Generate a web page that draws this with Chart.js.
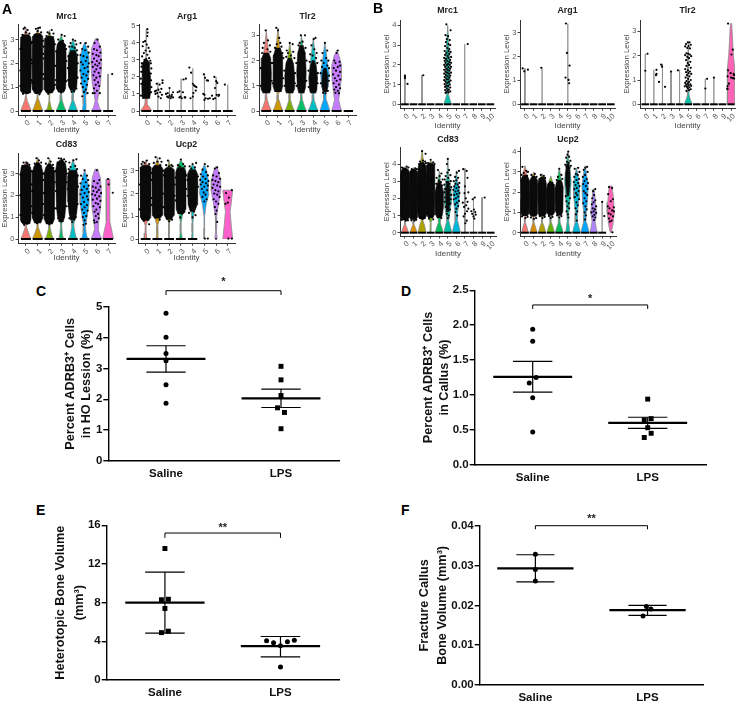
<!DOCTYPE html>
<html>
<head>
<meta charset="utf-8">
<script src="https://cdn.jsdelivr.net/npm/chart.js@4"></script>
<style>
  html, body { margin: 0; background: #fff; }
  body { position: relative; width: 739px; height: 701px; overflow: hidden; }
  canvas { position: absolute; }
  canvas.small { filter: blur(0.35px); }
  .letter { position: absolute; font: bold 14px "Liberation Sans", sans-serif; color: #000; }
</style>
</head>
<body>
<script>
// violin outlines are [level, half width in category units], dense = the solid black part of the jitter
const a_mrc1_violins = [
  [[0,.46],[.2,.3],[.45,.1],[.65,.03],[.85,.12],[1.2,.38],[2,.46],[2.8,.42],[3.05,.2],[3.5,.01]],
  [[0,.45],[.2,.28],[.5,.08],[.7,.03],[.9,.12],[1.3,.36],[2,.44],[2.8,.38],[3.1,.18],[3.5,.01]],
  [[0,.3],[.15,.15],[.4,.04],[.7,.03],[.9,.15],[1.3,.36],[2,.44],[2.8,.36],[3.05,.15],[3.4,.01]],
  [[0,.42],[.2,.25],[.45,.08],[.7,.04],[.9,.15],[1.4,.36],[2.2,.4],[2.8,.25],[3.2,.01]],
  [[0,.38],[.2,.25],[.45,.07],[.7,.05],[1,.2],[1.6,.38],[2.3,.4],[2.7,.22],[3,.01]],
  [[0,.2],[.3,.12],[.6,.1],[1,.22],[1.7,.4],[2.3,.38],[2.7,.15],[2.9,.01]],
  [[0,.42],[.15,.25],[.4,.1],[.7,.18],[1.2,.36],[2,.46],[2.6,.42],[3,.12],[3.05,.01]],
  [[0,.01],[1.55,.01]]
];
const a_mrc1_dense = [
  [[.72,.26],[.85,.42],[1.1,.46],[2.9,.46],[3.1,.42],[3.2,.25]],
  [[.72,.24],[.9,.42],[1.2,.45],[2.9,.45],[3.15,.4],[3.25,.2]],
  [[.75,.24],[.9,.42],[1.2,.45],[2.9,.45],[3.05,.38],[3.15,.15]],
  [[.78,.22],[.95,.38],[1.3,.42],[2.5,.42],[2.8,.34],[2.95,.12]],
  [[.85,.2],[1.05,.34],[1.5,.38],[2.3,.36],[2.55,.2]]
];
const a_mrc1_dots = [
  [-.2,3.45],[.15,3.4],[.3,3.25],[-.3,3.2],[0,3.3],[.2,3.15],[-.35,.85],[.35,.8],[-.25,.72],[.1,.75],[-.1,3.5],
  [.85,3.45],[1.2,3.5],[1.3,3.3],[.75,3.2],[1,3.35],[1.2,3.2],[.7,.95],[1.3,.85],[.9,.75],[1.15,.7],[1.05,3.48],
  [1.85,3.3],[2.2,3.4],[2.3,3.1],[1.75,3.15],[2,3.25],[2.35,3.25],[2.1,.8],[1.8,.85],[2.3,.9],[1.9,.72],
  [3.05,3.2],[3.3,3.15],[2.75,3],[3.15,2.95],[2.85,2.85],[3.35,2.75],[2.7,.95],[3.25,.9],[3,.78],
  [4,3],[4.2,2.95],[3.8,2.85],[4.3,2.8],[3.95,2.7],[4.15,2.65],[3.7,2.7],[4.35,2.55],[3.75,1],[4.3,.95],[4.1,.82],[3.9,.8],
  [4.65,2.85],[5.1,2.85],[5.3,2.7],[4.8,2.6],[5.05,2.55],[5.35,2.45],[4.65,2.35],[4.9,2.3],[5.2,2.25],[5.1,2.1],[4.7,2.05],[5.35,2],
  [4.85,1.95],[5.25,1.85],[5,1.8],[4.65,1.7],[5.3,1.65],[4.9,1.55],[5.15,1.5],[4.75,1.4],[5.3,1.35],[5,1.25],[4.7,1.15],[5.2,1.1],
  [4.85,1],[5.1,.9],[4.95,.8],[5.25,.75],[4.8,.62],
  [6.1,3],[5.85,2.85],[6.3,2.7],[5.8,2.6],[6.05,2.55],[6.35,2.45],[5.7,2.4],[6,2.35],[6.2,2.3],[5.8,2.2],[6.4,2.15],[6.05,2.1],
  [5.65,2.05],[6.25,2],[5.9,1.95],[6.1,1.9],[5.7,1.85],[6.35,1.8],[6,1.75],[5.85,1.65],[6.2,1.6],[5.75,1.5],[6.3,1.45],[6,1.4],
  [5.85,1.3],[6.15,1.2],[5.95,1.1],[6.25,1.05],[5.8,.95],[6.05,.85],[5.7,.75],[5.85,.75],[6.3,.75],
  [7.35,1.55],
  [-.47,1.05],[.48,1.3],[-.48,1.7],[.47,2.15],[-.47,2.6],[.46,2.85],
  [.53,1.2],[1.47,1.55],[.52,2],[1.48,2.4],[.53,2.9],[1.46,2.95],
  [1.53,1.35],[2.47,1.1],[1.52,2.2],[2.48,1.9],[1.53,2.7],[2.46,2.8],
  [2.56,1.3],[3.44,1.25],[2.55,1.9],[3.45,2.1],[2.58,2.5],[3.42,2.6],
  [3.6,1.3],[4.4,1.4],[3.58,1.8],[4.42,2],[3.62,2.3],[4.4,2.35]
];
const a_mrc1_zero = [.42,.42,.42,.42,.42,.42,.42,.42];

const a_arg1_violins = [
  [[0,.48],[.15,.35],[.35,.15],[.6,.08],[.8,.1],[1.2,.08],[2,.05],[3,.03],[4.8,.01]],
  [[0,.01],[1.7,.01]], [[0,.01],[1.3,.01]], [[0,.01],[1.9,.01]], [[0,.01],[2.5,.01]],
  [[0,.01],[2.2,.01]], [[0,.01],[2,.01]], [[0,.01],[1.55,.01]]
];
const a_arg1_dense = [ [[.72,.3],[1,.36],[1.5,.38],[2,.36],[2.4,.3],[2.85,.3],[3,.12]] ];
const a_arg1_dots = [
  [.1,4.8],[.12,4.6],[.1,4.4],[-.1,4.1],[-.25,4.05],[.05,3.9],[-.3,3.8],[.2,3.7],[-.05,3.55],[.3,3.5],[-.2,3.4],[.1,3.3],
  [-.35,3.2],[.25,3.1],[0,3.05],[-.15,3],[.35,2.95],[-.4,2.6],[.4,2.2],[-.42,1.6],[.42,1.1],
  [.75,1.15],[.85,1.2],[.95,1.05],[1.05,1.25],[1.15,1.55],[1.3,1.3],[1.4,1.8],[.9,1.6],[1.2,1.1],[1.35,.95],[1.05,.85],[.8,1],[1.25,.75],[1.4,1.65],
  [1.7,1],[1.8,.85],[1.9,.8],[2,.9],[2.1,.75],[2.2,.95],[2.3,.8],[1.85,1.05],[2,1.35],[2.15,.85],[2.3,1.1],
  [2.7,1.1],[2.85,1.15],[2.95,.85],[3.05,.75],[3.2,1.85],[3.4,1.9],[3.3,.8],[3.15,1.1],[2.85,.8],[3.35,.8],
  [3.7,2.55],[3.85,2.25],[4,1.6],[4.1,1.5],[4.2,1.45],[4.3,1.4],[4.05,1.05],[4,.85],[3.8,.75],[4.25,1.2],
  [4.95,2.15],[5.05,1.95],[5.2,1.8],[5.3,1.78],[4.9,1],[5,.95],[5.1,.75],[5.3,.72],[5.45,.75],[5,.65],
  [5.85,2],[6,1.75],[6.1,1.65],[5.9,1.35],[6.05,.95],[6.2,.88],[6.25,.95],[5.9,.75],[5.75,.7],[5.65,.9],
  [6.75,1.55],
  [-.44,.9],[.44,1.4],[-.45,1.9],[.44,2.5],[-.42,2.3],[.42,1.8],[-.38,2.8],[.4,2.8]
];
const a_arg1_zero = [.42,.42,.42,.42,.42,.42,.42,.42];

const a_tlr2_violins = [
  [[0,.45],[.2,.25],[.45,.08],[.65,.04],[.9,.22],[1.4,.4],[2,.32],[2.6,.12],[3.2,.01]],
  [[0,.42],[.2,.25],[.45,.08],[.65,.04],[.9,.22],[1.4,.38],[2,.32],[2.6,.14],[3.3,.01]],
  [[0,.4],[.2,.22],[.45,.06],[.65,.05],[.9,.25],[1.3,.4],[1.9,.25],[2.7,.01]],
  [[0,.42],[.2,.25],[.45,.08],[.65,.04],[.9,.22],[1.4,.38],[2,.3],[2.6,.1],[3,.01]],
  [[0,.42],[.2,.25],[.45,.08],[.65,.05],[.9,.22],[1.3,.38],[2,.22],[2.9,.01]],
  [[0,.42],[.2,.3],[.45,.12],[.7,.1],[1,.3],[1.5,.36],[2,.2],[2.7,.01]],
  [[0,.42],[.2,.3],[.45,.18],[.7,.25],[1.2,.38],[1.8,.42],[2.2,.2],[2.4,.01]],
  [[0,.01],[.02,.01]]
];
const a_tlr2_dense = [
  [[.7,.28],[.85,.4],[1.5,.44],[2.1,.38],[2.3,.2]],
  [[.75,.28],[.95,.38],[1.7,.42],[2.2,.38],[2.5,.2]],
  [[.7,.28],[.85,.38],[1.4,.42],[1.9,.32],[2.1,.12]],
  [[.7,.22],[.95,.36],[1.6,.4],[2.3,.32],[2.6,.15]],
  [[.7,.22],[.85,.32],[1.3,.36],[1.8,.24],[2,.1]],
  [[.75,.15],[1,.26],[1.4,.24],[1.7,.12]]
];
const a_tlr2_dots = [
  [-.05,3.2],[.15,2.8],[-.2,2.7],[.3,2.6],[-.3,2.5],[.1,2.45],[.35,2.35],[-.35,2.3],
  [.85,3.3],[1,3.2],[1.1,2.9],[1.3,2.55],[.75,2.5],[1.2,2.7],[.9,2.65],[.7,2.2],[1.38,2.3],
  [2,2.7],[2.25,2.65],[1.75,2.4],[2.3,2.35],[1.85,2.3],[2.1,2.2],[1.7,2.15],[2.4,2.1],
  [2.95,3],[3.3,3],[3.1,2.75],[2.75,2.6],[3.35,2.5],[2.85,2.7],[3,2.55],[3.25,2.3],
  [4.05,2.85],[4.2,2.9],[3.85,2.6],[4.1,2.45],[4.3,2.3],[3.75,2.25],[3.95,2.2],[4.25,2.1],[3.7,1.95],[4.35,1.9],
  [5,2.7],[5.2,2.4],[4.8,2.3],[5.1,2.1],[4.7,2],[5.3,2],[4.9,1.9],[5.2,1.8],[4.75,1.75],[5.35,1.7],
  [5.05,.7],[4.85,.72],[5.25,.8],
  [6.1,2.4],[6,2.3],[5.8,2],[6.25,1.95],[5.9,1.9],[6.3,1.8],[5.75,1.7],[6.1,1.75],[5.95,1.6],[6.3,1.55],[5.7,1.45],[6.15,1.4],
  [5.85,1.3],[6.3,1.25],[6,1.2],[5.75,1.1],[6.2,1.05],[5.95,.95],[6.3,.9],[5.8,.85],[6.1,.8],[5.9,.72],[6.2,.7],
  [-.46,1],[.46,1.2],[-.47,1.7],[.46,1.9],[.54,1.1],[1.44,1.3],[.53,1.9],[1.46,2.1],
  [1.56,1],[2.44,1.1],[1.54,1.6],[2.46,1.5],[2.58,1],[3.42,1.2],[2.56,1.9],[3.44,2],
  [3.62,.95],[4.38,1.1],[3.6,1.6],[4.4,1.5],[4.66,1.1],[5.34,1.2],[4.64,1.5],[5.36,1.4]
];
const a_tlr2_zero = [.42,.42,.42,.42,.42,.42,.42,.4];

const a_cd83_violins = [
  [[0,.42],[.2,.28],[.5,.08],[.7,.05],[.9,.2],[1.4,.38],[2.4,.42],[3.1,.38],[3.3,.2],[3.55,.01]],
  [[0,.45],[.25,.25],[.5,.08],[.7,.05],[.95,.2],[1.5,.38],[2.4,.42],[3.1,.36],[3.4,.15],[3.75,.01]],
  [[0,.35],[.2,.2],[.5,.06],[.7,.06],[.95,.22],[1.5,.38],[2.4,.42],[3.1,.36],[3.35,.1],[3.7,.01]],
  [[0,.2],[.25,.1],[.6,.05],[.95,.12],[1.5,.34],[2.4,.42],[3.2,.42],[3.5,.25],[3.7,.01]],
  [[0,.32],[.25,.2],[.6,.08],[.95,.15],[1.5,.32],[2.5,.42],[3.1,.3],[3.65,.01]],
  [[0,.25],[.3,.12],[.6,.08],[1,.2],[1.6,.38],[2.3,.38],[2.8,.2],[3.15,.01]],
  [[0,.45],[.2,.3],[.45,.15],[.8,.2],[1.4,.36],[2.1,.44],[2.8,.35],[3.2,.12]],
  [[0,.46],[.3,.35],[.8,.15],[1.5,.14],[2.2,.16],[2.75,.17]]
];
const a_cd83_dense = [
  [[.68,.26],[.85,.42],[1.2,.46],[3.05,.46],[3.3,.4],[3.4,.15]],
  [[.72,.26],[.95,.42],[1.3,.45],[3.05,.44],[3.3,.34],[3.5,.12]],
  [[.68,.26],[.9,.42],[1.3,.45],[3.05,.42],[3.25,.34],[3.45,.12]],
  [[.78,.18],[1.05,.32],[1.5,.4],[3.15,.46],[3.45,.38],[3.6,.15]],
  [[.85,.18],[1.15,.32],[1.7,.42],[2.9,.42],[3.15,.32]]
];
const a_cd83_dots = [
  [-.2,3.5],[.15,3.45],[.3,3.4],[-.3,3.35],[.05,3.5],[-.35,.8],[.3,.75],[-.15,.65],[.1,.7],
  [.9,3.7],[1.1,3.6],[.75,3.45],[1.3,3.5],[1,3.4],[1.25,3.35],[.8,.8],[1.2,.85],[.95,.72],
  [1.9,3.7],[2.1,3.55],[1.7,3.45],[2.3,3.4],[2,3.35],[2.35,3.25],[1.8,.75],[2.2,.8],[2,.68],
  [2.8,3.7],[3,3.68],[3.25,3.65],[3.4,3.55],[2.7,3.5],[3.1,3.6],[2.75,.95],[3.2,1],[3,.8],
  [4.05,3.6],[4.3,3.65],[3.7,3.5],[4.2,3.35],[3.8,3.3],[3.65,3.2],[4.35,3.2],[3.7,.95],[4.25,1],[3.95,.78],[4.1,.9],
  [5,3.15],[5.2,2.9],[4.7,2.9],[5.3,2.7],[4.85,2.75],[5.1,2.6],[4.65,2.55],[5.35,2.45],[4.95,2.4],[5.2,2.3],[4.75,2.25],[5.35,2.15],
  [5,2.1],[4.65,2.05],[5.2,1.95],[4.85,1.9],[5.3,1.8],[4.95,1.7],[4.7,1.6],[5.2,1.55],[5,1.45],[4.8,1.35],[5.25,1.3],[4.95,1.2],[5.15,1.05],[4.85,1],[5,.85],[5.1,.7],[4.9,.65],
  [6.05,3.15],[6.25,2.7],[5.8,2.65],[6.1,2.55],[6.35,2.4],[5.7,2.4],[5.95,2.35],[6.2,2.25],[5.75,2.2],[6.05,2.15],[6.4,2.1],[5.65,2.05],
  [5.9,2],[6.25,1.95],[6.05,1.85],[5.7,1.8],[6.35,1.75],[5.95,1.65],[6.15,1.6],[5.75,1.5],[6.3,1.45],[6,1.35],[5.85,1.25],[6.15,1.15],[5.95,1.05],[6.2,.95],[5.8,.85],[6.05,.78],[5.85,.75],
  [7,2.75],[7.05,2.5],[7.4,2.12],
  [-.47,1.1],[.47,1.5],[-.48,2],[.47,2.5],[-.47,2.95],[.46,3.1],
  [.54,1.2],[1.46,1.6],[.53,2.2],[1.47,2.7],[.55,3.1],[1.45,3],
  [1.53,1.1],[2.47,1.4],[1.53,2.1],[2.46,2.6],[1.55,3],[2.44,3.1],
  [2.6,1.4],[3.42,1.5],[2.56,2.2],[3.47,2.6],[2.56,3.1],[3.46,3],
  [3.62,1.5],[4.4,1.6],[3.58,2.3],[4.43,2.4],[3.6,3],[4.42,2.9]
];
const a_cd83_zero = [.42,.42,.42,.42,.42,.42,.42,.42];

const a_ucp2_violins = [
  [[0,.12],[.25,.06],[.6,.04],[.85,.2],[1.3,.42],[2.4,.44],[3.1,.38],[3.3,.1],[3.45,.01]],
  [[0,.12],[.25,.06],[.6,.04],[.9,.2],[1.4,.42],[2.4,.44],[3.1,.36],[3.35,.1],[3.6,.01]],
  [[0,.05],[.3,.03],[.7,.03],[.95,.2],[1.4,.42],[2.4,.44],[3,.38],[3.2,.1],[3.45,.01]],
  [[0,.12],[.3,.05],[.7,.03],[1.1,.15],[1.6,.38],[2.4,.42],[3.1,.36],[3.5,.01]],
  [[0,.1],[.3,.04],[.7,.03],[1.2,.12],[1.7,.35],[2.4,.44],[3,.3],[3.3,.01]],
  [[0,.02],[.5,.02],[1,.03],[1.5,.15],[2,.4],[2.6,.35],[3,.2],[3.3,.01]],
  [[0,.1],[.4,.03],[1,.06],[1.5,.2],[2.1,.4],[2.6,.4],[3,.2],[3.2,.01]],
  [[0,.42],[.6,.3],[1.2,.2],[1.6,.3],[2.15,.42]]
];
const a_ucp2_dense = [
  [[.8,.24],[.95,.44],[3.15,.47],[3.25,.3]],
  [[.9,.22],[1.05,.44],[3.1,.46],[3.25,.25]],
  [[.85,.18],[1.05,.42],[3.05,.45],[3.15,.2]],
  [[1.1,.22],[1.3,.4],[2.95,.44],[3.15,.25]],
  [[1.2,.18],[1.5,.38],[2.85,.44],[3.05,.25]]
];
const a_ucp2_dots = [
  [-.25,3.4],[.1,3.45],[.3,3.3],[-.35,3.3],[-.1,3.35],[-.3,.9],[.2,.85],[.1,.95],[-.15,.8],[.3,.65],
  [.85,3.6],[1.2,3.55],[1.35,3.4],[.7,3.35],[1,3.4],[1.25,3.25],[.85,.95],[1.2,.85],[1.05,1],
  [1.9,3.45],[2.2,3.25],[1.75,3.25],[2.3,3.2],[2,3.2],[1.8,.9],[2.25,.85],[2,.78],
  [3,3.5],[3.2,3.3],[2.75,3.25],[3.35,3.2],[2.9,3.2],[3.1,1.1],[2.8,1.15],[3.3,1.2],[2.95,.95],
  [4.3,3.35],[4,3.3],[3.75,3.2],[4.2,3.15],[3.9,3.1],[3.7,1.15],[4.25,1.05],[4,.95],[4.1,1.2],[3.85,1.3],
  [5.05,3.3],[5.3,3.2],[4.85,3.05],[5.15,2.95],[4.7,2.85],[5.3,2.8],[4.9,2.75],[5.1,2.65],[4.65,2.6],[5.35,2.55],[4.85,2.5],[5.15,2.45],
  [4.7,2.4],[5.3,2.35],[5,2.3],[4.8,2.2],[5.25,2.15],[4.95,2.05],[5.1,1.95],[4.85,1.85],[5.2,1.75],[5,1.65],[5.05,.02],[5.3,.02],
  [6.1,3.15],[5.9,3.1],[6.25,2.9],[5.75,2.8],[6.05,2.75],[6.35,2.65],[5.7,2.6],[5.95,2.55],[6.2,2.5],[5.8,2.4],[6.1,2.35],[6.35,2.3],
  [5.7,2.25],[5.95,2.15],[6.2,2.1],[5.85,2],[6.1,1.95],[6.3,1.85],[5.8,1.75],[6,1.65],[6.2,1.55],[5.9,1.4],[6.05,1.25],[5.95,1.1],[6.1,.75],
  [6.85,2.02],[7.1,1.82],[7,1.6],[6.8,1.55],[7.35,2.15],[7.05,.02],[7.35,.02],
  [-.49,1.3],[.49,1.8],[-.49,2.4],[.49,2.9],[.52,1.5],[1.48,2],[.52,2.6],[1.48,3],
  [1.53,1.4],[2.47,1.9],[1.52,2.8],[2.48,2.4],[2.56,1.7],[3.46,2.2],[2.55,2.7],[3.46,2.8],
  [3.58,1.9],[4.46,2.3],[3.56,2.6],[4.46,2.75]
];
const a_ucp2_zero = [.42,.42,.42,.42,.4,0,.05,.0];

const b_mrc1_violins = [
  [[0,.01],[1.45,.01]],[[0,.01],[.02,.01]],[[0,.01],[1.47,.01]],[[0,.01],[.02,.01]],[[0,.01],[.02,.01]],
  [[0,.46],[.2,.3],[.5,.1],[.7,.08],[1,.2],[2,.25],[3,.14],[4,.01]],
  [[0,.01],[.02,.01]],[[0,.01],[3.05,.01]],[[0,.01],[.02,.01]],[[0,.01],[.02,.01]],[[0,.01],[.02,.01]]
];
const b_mrc1_dots = [
  [0,1.45],[0,1.38],[0,1.33],[.3,1.03],[2.15,1.47],[7.35,3.05],
  [4.85,4.05],[5.35,3.75],[4.75,3.5],[5.05,3.45],[4.9,3.3],[5.25,3.25],[4.8,3.15],[5.1,3.05],[5.3,3],[4.7,2.95],[4.95,2.85],[5.2,2.8],
  [4.65,2.7],[5.1,2.7],[5.35,2.65],[4.85,2.6],[4.7,2.5],[5.2,2.55],[5,2.45],[5.4,2.4],[4.6,2.35],[4.8,2.3],[5.1,2.35],[5.3,2.25],
  [4.65,2.2],[4.95,2.2],[5.2,2.15],[5.4,2.1],[4.75,2.1],[5.05,2.05],[4.6,2],[4.9,1.98],[5.25,2],[5.4,1.9],[4.7,1.9],[5.1,1.88],
  [4.85,1.8],[5.3,1.8],[4.6,1.75],[5,1.75],[5.2,1.7],[4.75,1.65],[5.4,1.6],[4.95,1.6],[4.6,1.55],[5.15,1.55],[4.8,1.48],[5.3,1.45],
  [5,1.42],[4.65,1.38],[5.2,1.35],[4.85,1.3],[4.6,1.22],[5.05,1.25],[5.35,1.2],[4.75,1.15],[5.15,1.12],[4.95,1.08],[4.65,1.02],[5.25,1],
  [4.85,.95],[5.05,.92],[4.7,.88],[5.3,.85],[4.9,.8],[5.15,.75],[4.7,.72],[5,.7],[5.3,.65],[4.85,.62],[5.1,.6],[4.75,.58]
];
const b_mrc1_zero = [.45,.45,.45,.45,.45,.45,.45,.45,.45,.45,.45];

const b_arg1_violins = [
  [[0,.01],[1.5,.01]],[[0,.01],[.02,.01]],[[0,.01],[1.53,.01]],[[0,.01],[.02,.01]],[[0,.01],[.02,.01]],
  [[0,.01],[3.38,.01]],[[0,.01],[.02,.01]],[[0,.01],[.02,.01]],[[0,.01],[.02,.01]],[[0,.01],[.02,.01]],[[0,.01],[.02,.01]]
];
const b_arg1_dots = [
  [-.27,1.5],[-.08,1.38],[.35,1.45],[1.9,1.53],[4.77,3.38],[4.9,2.15],[5.2,1.62],[4.73,1.12],[5.08,1.02],[5.15,.88]
];
const b_arg1_zero = b_mrc1_zero;

const b_tlr2_violins = [
  [[0,.01],[2.08,.01]],[[0,.01],[1.42,.01]],[[0,.01],[1.65,.01]],[[0,.01],[1.35,.01]],[[0,.01],[1.42,.01]],
  [[0,.46],[.15,.3],[.35,.12],[.6,.06],[1,.08],[2,.06],[2.55,.01]],
  [[0,.01],[.02,.01]],[[0,.01],[1.05,.01]],[[0,.01],[1.1,.01]],[[0,.01],[.02,.01]],
  [[0,.42],[.4,.42],[1,.44],[1.5,.42],[2,.28],[2.6,.18],[3.32,.08]]
];
const b_tlr2_dots = [
  [0,1.38],[.25,2.08],[1.3,1.42],[1.3,1.25],[1.25,1.2],[1.6,.92],[1.85,1.63],[1.95,1.55],[2.3,.72],[3,1.35],[3.8,1.4],
  [7.2,1.05],[7,.65],[8,1.1],
  [4.95,2.55],[5.15,2.55],[4.75,2.48],[5.3,2.45],[5.05,2.4],[4.65,2.38],[4.9,2.32],[5.2,2.3],[4.8,2.1],[5,2.08],[5.2,2.05],[4.65,2.02],
  [5.35,1.98],[4.9,1.95],[5.1,1.9],[4.75,1.82],[5.25,1.75],[4.95,1.7],[5.1,1.62],[4.8,1.58],[5.3,1.5],[4.65,1.45],[4.95,1.4],[5.2,1.35],
  [4.75,1.32],[5.05,1.28],[5.35,1.25],[4.85,1.2],[5.15,1.15],[4.7,1.1],[5,1.05],[5.3,1],[4.8,.95],[5.1,.92],[4.65,.88],[4.95,.85],
  [5.25,.82],[4.75,.8],[5.05,.78],[5.35,.76],[4.6,.74],[4.85,.72],[5.15,.7],[4.95,.66],[5.3,.62],[5.1,.58],[4.8,.55],
  [9.65,3.32],[10.05,2.05],[10.2,2.25],[9.65,1.4],[9.95,1.28],[10.3,1.25],[10.35,1.2],[9.6,1.15],[10,1.1],[10.2,1.08],[10.35,1.06],[9.75,.85],[9.6,.75],[9.55,.65],[9.6,.62]
];
const b_tlr2_zero = [.45,.45,.45,.45,.45,.45,.45,.45,.45,.45,.42];

const b_cd83_violins = [
  [[0,.4],[.25,.25],[.5,.05],[.7,.05],[1,.3],[2,.46],[3,.44],[3.6,.2],[3.85,.01]],
  [[0,.42],[.25,.25],[.5,.05],[.7,.05],[1,.3],[2,.46],[3,.44],[3.5,.2],[3.8,.01]],
  [[0,.46],[.4,.3],[.7,.1],[1,.3],[2,.46],[3,.44],[4,.2],[4.8,.01]],
  [[0,.08],[.6,.05],[1,.3],[2,.46],[3,.46],[3.9,.3],[4.2,.01]],
  [[0,.48],[.3,.3],[.6,.1],[.9,.15],[1.5,.4],[2.2,.42],[3,.15],[3.6,.01]],
  [[0,.48],[.3,.32],[.7,.12],[1,.2],[1.8,.42],[2.6,.36],[3.3,.1],[4.3,.01]],
  [[0,.48],[.3,.35],[.7,.15],[1.1,.12],[1.7,.3],[2.4,.4],[3,.12],[3.6,.01]],
  [[0,.01],[3.75,.01]],[[0,.01],[2.05,.01]],[[0,.01],[2.05,.01]],[[0,.01],[.02,.01]]
];
const b_cd83_dense = [
  [[.72,.3],[.85,.46],[1.05,.5],[3.4,.5],[3.65,.44],[3.75,.2]],
  [[.75,.3],[.9,.46],[1.1,.5],[3.4,.5],[3.55,.44],[3.7,.2]],
  [[.8,.3],[.95,.46],[1.2,.5],[3.5,.5],[3.9,.44],[4.1,.2]],
  [[.85,.25],[1.05,.44],[1.3,.5],[3.7,.5],[3.95,.44],[4.05,.2]],
  [[.85,.24],[1.05,.38],[1.4,.46],[2.4,.48],[2.75,.3],[3,.1]],
  [[1.2,.12],[1.6,.2],[2.4,.25],[3,.12]]
];
const b_cd83_dots = [
  [-.35,3.8],[.2,3.85],[.4,3.8],[-.2,3.75],[.05,3.7],[-.4,.75],[.35,.72],[.1,.7],
  [.8,3.7],[1.2,3.75],[1.4,3.7],[.7,3.55],[1.05,3.65],[.75,.72],[1.3,.75],[1.1,.7],
  [2,4.75],[2.4,4.6],[1.75,4.15],[2.1,4.2],[2.35,4.15],[1.65,4],[2.45,4.05],[2.2,3.9],[1.8,.9],[2.3,.85],[2.05,.8],
  [3,4.25],[3.3,4.1],[2.7,4.05],[3.45,4],[2.85,3.95],[3.1,3.1],[2.8,.82],[3.3,.78],[3.05,.95],
  [3.85,3.65],[4.05,3.3],[4.25,3.45],[3.7,3.2],[4.4,3.1],[3.95,3.05],[4.2,2.95],[3.65,2.85],[4.35,2.75],[4,2.7],[4.1,.95],[3.85,.9],[4.25,.85],
  [5,4.3],[4.9,4],[5.15,3.65],[4.95,3.5],[5.3,3.35],[4.75,3.3],[5.05,3.2],[4.65,3.1],[5.35,3],[4.85,2.95],[5.2,2.85],[4.6,2.8],
  [5.05,2.75],[5.4,2.65],[4.7,2.55],[5.3,2.5],[4.6,2.35],[5.4,2.2],[4.7,2.05],[5.35,1.95],[4.65,1.8],[5.3,1.7],[4.75,1.5],[5.25,1.35],[4.9,1.1],[5.1,1],[5,.85],
  [6.3,3.6],[6.05,3.5],[5.85,3.25],[6.2,3.2],[6,3.05],[5.7,3],[6.35,2.9],[5.9,2.85],[6.15,2.8],[5.75,2.7],[6.3,2.65],[6,2.6],
  [5.65,2.5],[6.2,2.45],[5.9,2.4],[6.35,2.3],[6.05,2.25],[5.75,2.2],[6.2,2.1],[5.95,2],[5.7,1.95],[6.3,1.85],[6.05,1.75],[5.85,1.65],[6.2,1.55],[6,1.4],[5.9,1.2],[6.1,1],
  [6.8,3.7],[7.2,3.6],[7.3,3.2],[7,2.7],[7.4,2.35],[6.95,2.3],[7.1,2],[7.3,1.8],[6.75,1.75],[7.15,1.6],[6.9,1.5],[7.4,1.4],[7.25,1.25],[7,1.1],[6.85,.95],[7.2,.7],[7.05,.55],
  [8.15,2.05],[7.9,1.95],[8.05,1.35],[7.75,1.25],[8.2,1.2],[7.85,1.1],[8.25,1.05],[8,.95],[8.1,.82],[9.3,2.05]
];
const b_cd83_zero = [.46,.46,.46,.46,.46,.46,.46,.46,.46,.46,.46];

const b_ucp2_violins = [
  [[0,.38],[.25,.25],[.5,.06],[.75,.05],[1,.3],[1.7,.46],[2.5,.4],[3.3,.02]],
  [[0,.4],[.25,.25],[.5,.06],[.75,.05],[1,.3],[1.7,.46],[2.4,.4],[3,.02]],
  [[0,.42],[.25,.28],[.5,.06],[.75,.05],[1,.3],[1.7,.46],[2.4,.4],[2.9,.02]],
  [[0,.44],[.25,.28],[.5,.08],[.8,.05],[1.1,.28],[1.6,.44],[2.3,.36],[2.8,.02]],
  [[0,.46],[.25,.3],[.5,.1],[.8,.06],[1.1,.25],[1.7,.42],[2.4,.32],[3.2,.01]],
  [[0,.25],[.25,.18],[.55,.08],[1,.12],[1.8,.28],[2.6,.38],[3.3,.2],[4,.01]],
  [[0,.46],[.2,.35],[.5,.15],[1,.12],[1.7,.3],[2.3,.35],[2.8,.2],[3.2,.01]],
  [[0,.48],[.2,.38],[.5,.18],[.9,.12],[1.5,.28],[2.3,.36],[2.9,.18],[3.3,.01]],
  [[0,.46],[.2,.32],[.55,.18],[1,.34],[1.5,.22],[2.15,.08]],
  [[0,.01],[1.5,.01]],
  [[0,.05],[.4,.25],[1,.42],[1.5,.35],[2,.25],[2.3,.18]]
];
const b_ucp2_dense = [
  [[.82,.3],[.95,.46],[2.5,.5],[2.7,.42],[2.85,.15]],
  [[.8,.3],[.95,.46],[2.4,.5],[2.6,.42],[2.8,.15]],
  [[.8,.3],[.95,.46],[2.4,.5],[2.6,.42],[2.75,.15]],
  [[.85,.25],[1,.44],[2.15,.48],[2.35,.38],[2.5,.15]],
  [[.85,.25],[1.05,.42],[2.25,.46],[2.5,.32],[2.6,.12]],
  [[1.8,.1],[2.3,.22],[3,.24],[3.4,.12]]
];
const b_ucp2_dots = [
  [-.3,3.25],[.15,3.05],[.35,3],[-.15,2.95],[-.4,2.85],[.25,2.8],[-.35,.8],[.3,.78],[.05,.72],
  [.75,2.85],[1.15,2.9],[1.35,2.75],[.95,2.75],[.7,.75],[1.3,.72],[1.05,.68],
  [1.85,2.85],[2.2,2.8],[2.35,2.7],[1.7,2.65],[1.75,.82],[2.3,.78],[2.05,.72],
  [2.95,2.5],[3.2,2.45],[2.75,2.4],[3.35,2.35],[2.8,.82],[3.2,.78],[3,.72],
  [4,3.15],[4.25,2.85],[3.85,2.75],[4.35,2.65],[3.7,2.6],[4.1,2.55],[3.9,2.5],[3.75,.85],[4.25,.82],[4,.75],
  [5.05,4],[4.95,3.85],[5.15,3.75],[4.8,3.7],[5.3,3.55],[4.9,3.5],[5.1,3.45],[4.7,3.35],[5.35,3.3],[4.85,3.25],[5.2,3.2],[4.75,1.8],[5.25,1.7],
  [4.85,1.55],[5.1,1.45],[4.95,1.3],[5.15,1.2],[4.85,1.05],[5,.9],[5.05,.75],
  [6.2,3.2],[5.8,3.15],[6.35,3],[5.95,2.9],[6.15,2.85],[5.75,2.75],[6.3,2.65],[6,2.6],[5.7,2.5],[6.2,2.45],[5.9,2.35],[6.35,2.3],
  [6.05,2.2],[5.75,2.15],[6.25,2.05],[5.95,1.95],[6.1,1.85],[5.8,1.75],[6.3,1.65],[6,1.5],[6.15,1.35],[5.9,1.2],[6.1,1.05],[5.95,.9],[6.05,.6],
  [7.25,3.25],[7.05,3.2],[6.85,3.1],[7.3,3],[7,2.85],[6.75,2.75],[7.2,2.65],[6.95,2.55],[7.35,2.45],[6.8,2.4],[7.1,2.3],[7.3,2.15],
  [6.85,2.05],[7.05,1.95],[7.25,1.85],[6.95,1.7],[7.15,1.55],[6.8,1.45],[7.05,1.3],[7.2,1.15],[6.95,1],[7.1,.85],[7,.65],
  [8.2,2.15],[7.95,2.05],[8.05,1.85],[7.85,1.7],[8.2,1.6],[8,1.5],[7.8,1.4],[8.3,1.3],[7.9,1.2],[8.15,1.15],[8,1.05],[7.75,1],[8.3,.98],[8.1,.88],[7.9,.8],[8.2,.75],[8.05,.62],
  [9,1.52],[9.25,.82],
  [9.8,2.25],[10.15,2.2],[9.7,1.9],[10.25,1.65],[10,1.55],[9.65,1.3],[10.35,1.25],[9.85,1.2],[10.15,1.1],[10.35,1.05],[9.75,.95],[10,.9],[10.25,.8],[9.8,.7],[10.1,.6],[9.9,.55],[10.2,.02]
];
const b_ucp2_zero = [.46,.46,.46,.46,.46,.46,.46,.46,.46,.46,.0];

// bottom panels, points are [offset from the group centre, value]
const groupLabels = ['Saline', 'LPS'];
const c_saline = [[0,4.8],[0,4.02],[0,3.49],[0,3.25],[0,2.47],[0,1.87]];
const c_lps = [[0,3.07],[0,2.63],[0,2.12],[-.03,1.72],[.03,1.57],[0,1.04]];
const c_mean = [3.31, 2.03];
const c_upper = [3.74, 2.33];
const c_lower = [2.88, 1.73];
const d_saline = [[0,1.94],[0,1.77],[.03,1.25],[-.03,1.17],[0,.96],[0,.47]];
const d_lps = [[0,.94],[.03,.66],[-.03,.64],[0,.53],[.03,.45],[-.03,.39]];
const d_mean = [1.26, .6];
const d_upper = [1.48, .68];
const d_lower = [1.04, .52];
const e_saline = [[0,13.6],[-.03,8.3],[.03,8.35],[0,7.4],[.03,5.05],[-.03,4.9]];
const e_lps = [[-.12,4.05],[-.06,3.85],[0,3.55],[.06,3.95],[.12,4.1],[0,1.35]];
const e_mean = [8, 3.5];
const e_upper = [11.15, 4.5];
const e_lower = [4.85, 2.4];
const f_saline = [[0,.0328],[0,.029],[0,.0261]];
const f_lps = [[-.01,.0197],[.03,.0191],[-.04,.0173]];
const f_mean = [.0293, .0188];
const f_upper = [.0327, .02];
const f_lower = [.0259, .0175];

const hue8 = ['#F8766D','#CD9600','#7CAE00','#00BE67','#00BFC4','#00A9FF','#C77CFF','#FF61CC'];
const hue11 = ['#F8766D','#DB8E00','#AEA200','#64B200','#00BD5C','#00C1A7','#00BADE','#00A6FF','#B385FF','#EF67EB','#FF63B6'];
const sans = '"Liberation Sans", Arial, sans-serif';

function addCanvas(left, top, right, bottom, cls) {
  const c = document.createElement('canvas');
  c.width = Math.round(right - left);
  c.height = Math.round(bottom - top);
  c.style.left = left + 'px';
  c.style.top = top + 'px';
  c.className = cls;
  document.body.appendChild(c);
  return c;
}

function outline(cat, profile) {
  const right = profile.map(p => ({ x: cat + p[1], y: p[0] }));
  const left = profile.map(p => ({ x: cat - p[1], y: p[0] })).reverse();
  return right.concat(left);
}

function violinPanel(p) {
  const n = p.violins.length;
  const step = (p.catN - p.cat0) / (n - 1);
  const datasets = [];
  p.violins.forEach((profile, i) => {
    datasets.push({
      data: outline(i, profile), showLine: true, fill: 'shape', pointRadius: 0,
      backgroundColor: p.hues[i], borderColor: '#8a8a8a', borderWidth: .8, order: 3
    });
  });
  (p.dense || []).forEach((profile, i) => {
    datasets.push({
      data: outline(i, profile), showLine: true, fill: 'shape', pointRadius: 0,
      backgroundColor: '#0a0a0a', borderColor: '#0a0a0a', borderWidth: .5, order: 2
    });
  });
  p.zero.forEach((half, i) => {
    if (!half) return;
    datasets.push({
      data: [{ x: i - half, y: 0 }, { x: i + half, y: 0 }], showLine: true, pointRadius: 0,
      borderColor: '#000', borderWidth: 2, order: 1, clip: false
    });
  });
  datasets.push({
    data: p.dots.map(d => ({ x: d[0], y: d[1] })), showLine: false,
    pointRadius: 1.1, borderWidth: 0, backgroundColor: '#000', order: 0, clip: false
  });

  const top = p.titleY - 6, bottom = p.idY + 5, left = p.l - 18, right = p.r + 3;
  const canvas = addCanvas(left, top, right, bottom, 'small');
  new Chart(canvas, {
    type: 'scatter',
    data: { datasets },
    options: {
      responsive: false, animation: false,
      layout: { padding: { left: 0, right: right - p.r, top: 0, bottom: 0 } },
      plugins: {
        legend: { display: false }, tooltip: { enabled: false },
        title: {
          display: true, text: p.title, fullSize: false, color: '#222',
          font: { family: sans, size: 8.8, weight: 'bold', lineHeight: 1.2 },
          padding: { top: 0, bottom: p.t - top - 8.8 * 1.2 }
        }
      },
      scales: {
        x: {
          type: 'linear', min: (p.l - p.cat0) / step, max: (n - 1) + (p.r - p.catN) / step,
          afterFit: s => { s.height = bottom - p.b; },
          afterBuildTicks: s => { s.ticks = p.violins.map((v, i) => ({ value: i })); },
          border: { color: '#333', width: 1 },
          grid: { drawOnChartArea: false, color: '#444', tickLength: 2.5 },
          ticks: {
            color: '#555', font: { family: sans, size: 7.5 }, minRotation: 45, maxRotation: 45,
            padding: 1, autoSkip: false, labelOffset: 3, callback: v => String(v)
          },
          title: { display: true, text: 'Identity', color: '#444', font: { family: sans, size: 8 }, padding: 0 }
        },
        y: {
          min: (p.zeroY - p.b) / p.unit, max: (p.zeroY - p.t) / p.unit,
          afterFit: s => { s.width = 18; },
          border: { color: '#333', width: 1 },
          grid: { drawOnChartArea: false, color: '#444', tickLength: 2.5 },
          ticks: {
            color: '#555', font: { family: sans, size: 7.5 }, stepSize: 1, includeBounds: false, padding: 1
          },
          title: { display: true, text: 'Expression Level', color: '#444', font: { family: sans, size: 7.8 }, padding: 0 }
        }
      }
    }
  });
}

function seg(x1, y1, x2, y2, w) {
  return {
    data: [{ x: x1, y: y1 }, { x: x2, y: y2 }], showLine: true, pointRadius: 0,
    borderColor: '#000', borderWidth: w, clip: false
  };
}

function statsPanel(p) {
  const step = p.cat1 - p.cat0;
  const datasets = [];
  [p.first, p.second].forEach((group, i) => {
    const style = p.styles[i];
    datasets.push({
      data: group.map(d => ({ x: i + d[0], y: d[1] })), showLine: false, pointStyle: style,
      pointRadius: style === 'rect' ? 3.5 : 2.5, borderWidth: 0, backgroundColor: '#000', clip: false
    });
    datasets.push(seg(i - p.meanHalf, p.mean[i], i + p.meanHalf, p.mean[i], 2.2));
    datasets.push(seg(i - p.capHalf, p.upper[i], i + p.capHalf, p.upper[i], 1.2));
    datasets.push(seg(i - p.capHalf, p.lower[i], i + p.capHalf, p.lower[i], 1.2));
    datasets.push(seg(i, p.lower[i], i, p.upper[i], 1.2));
  });
  datasets.push(seg(0, p.bracket[0], 0, p.bracket[1], 1));
  datasets.push(seg(0, p.bracket[1], 1, p.bracket[1], 1));
  datasets.push(seg(1, p.bracket[0], 1, p.bracket[1], 1));

  const starText = {
    id: 'starText',
    afterDatasetsDraw(chart) {
      const ctx = chart.ctx;
      ctx.save();
      ctx.fillStyle = '#222';
      ctx.font = 'bold 11px ' + sans;
      ctx.textAlign = 'center';
      ctx.textBaseline = 'middle';
      ctx.fillText(p.stars, chart.scales.x.getPixelForValue(.5), chart.scales.y.getPixelForValue(p.starY) + 2);
      ctx.restore();
    }
  };

  const canvas = addCanvas(p.left, p.top, p.r + 6, p.bottom, '');
  new Chart(canvas, {
    type: 'scatter',
    data: { datasets },
    plugins: [starText],
    options: {
      responsive: false, animation: false,
      layout: { padding: { left: 0, right: 6, top: p.t - p.top, bottom: 0 } },
      plugins: { legend: { display: false }, tooltip: { enabled: false } },
      scales: {
        x: {
          type: 'linear', min: (p.l - p.cat0) / step, max: 1 + (p.r - p.cat1) / step,
          afterFit: s => { s.height = p.bottom - p.b; },
          afterBuildTicks: s => { s.ticks = groupLabels.map((g, i) => ({ value: i })); },
          border: { color: '#000', width: 1.4 },
          grid: { display: false, drawTicks: false },
          ticks: {
            color: '#111', font: { family: sans, size: 11.5, weight: 'bold' }, padding: 6, maxRotation: 0,
            callback: v => groupLabels[v]
          }
        },
        y: {
          min: 0, max: p.yMax,
          afterFit: s => { s.width = p.l - p.left; },
          border: { color: '#000', width: 1.4 },
          grid: { drawOnChartArea: false, color: '#000', tickLength: 5, lineWidth: 1.4 },
          ticks: {
            color: '#111', font: { family: sans, size: 11.5, weight: 'bold' }, stepSize: p.yStep, padding: 1,
            callback: v => v.toFixed(p.digits)
          },
          title: {
            display: true, text: p.yTitle, color: '#111',
            font: { family: sans, size: 12.7, weight: 'bold', lineHeight: p.titleLine }, padding: 0
          }
        }
      }
    }
  });
}

violinPanel({ title: 'Mrc1', violins: a_mrc1_violins, dense: a_mrc1_dense, dots: a_mrc1_dots, zero: a_mrc1_zero, hues: hue8,
  l: 18, r: 116, t: 24, b: 115, zeroY: 111, unit: 23.9, cat0: 26, catN: 109, titleY: 16.7, idY: 130 });
violinPanel({ title: 'Arg1', violins: a_arg1_violins, dense: a_arg1_dense, dots: a_arg1_dots, zero: a_arg1_zero, hues: hue8,
  l: 138.7, r: 236, t: 24, b: 115, zeroY: 111, unit: 17.1, cat0: 146, catN: 228.7, titleY: 16.7, idY: 130 });
violinPanel({ title: 'Tlr2', violins: a_tlr2_violins, dense: a_tlr2_dense, dots: a_tlr2_dots, zero: a_tlr2_zero, hues: hue8,
  l: 259, r: 356.7, t: 24, b: 115, zeroY: 111, unit: 25.3, cat0: 266.3, catN: 349, titleY: 16.7, idY: 130 });
violinPanel({ title: 'Cd83', violins: a_cd83_violins, dense: a_cd83_dense, dots: a_cd83_dots, zero: a_cd83_zero, hues: hue8,
  l: 18, r: 116, t: 152.7, b: 243.3, zeroY: 239, unit: 21.9, cat0: 26, catN: 109, titleY: 144.7, idY: 258 });
violinPanel({ title: 'Ucp2', violins: a_ucp2_violins, dense: a_ucp2_dense, dots: a_ucp2_dots, zero: a_ucp2_zero, hues: hue8,
  l: 138.3, r: 236, t: 152.7, b: 243.3, zeroY: 239, unit: 22.8, cat0: 146, catN: 228.7, titleY: 144.7, idY: 258 });

violinPanel({ title: 'Mrc1', violins: b_mrc1_violins, dots: b_mrc1_dots, zero: b_mrc1_zero, hues: hue11,
  l: 400, r: 496, t: 20, b: 108.3, zeroY: 104.3, unit: 19.75, cat0: 405, catN: 491.3, titleY: 11, idY: 126 });
violinPanel({ title: 'Arg1', violins: b_arg1_violins, dots: b_arg1_dots, zero: b_arg1_zero, hues: hue11,
  l: 520, r: 616, t: 20, b: 108.3, zeroY: 104.3, unit: 23.9, cat0: 525, catN: 611.7, titleY: 11, idY: 126 });
violinPanel({ title: 'Tlr2', violins: b_tlr2_violins, dots: b_tlr2_dots, zero: b_tlr2_zero, hues: hue11,
  l: 640.3, r: 736.7, t: 20, b: 108.3, zeroY: 104.3, unit: 24.3, cat0: 645.7, catN: 732.7, titleY: 11, idY: 126 });
violinPanel({ title: 'Cd83', violins: b_cd83_violins, dense: b_cd83_dense, dots: b_cd83_dots, zero: b_cd83_zero, hues: hue11,
  l: 400, r: 496.7, t: 148, b: 236, zeroY: 232.7, unit: 17.1, cat0: 405, catN: 491.3, titleY: 140.3, idY: 254 });
violinPanel({ title: 'Ucp2', violins: b_ucp2_violins, dense: b_ucp2_dense, dots: b_ucp2_dots, zero: b_ucp2_zero, hues: hue11,
  l: 520, r: 617, t: 148, b: 236, zeroY: 232.7, unit: 20.2, cat0: 525, catN: 611.7, titleY: 140.3, idY: 254 });

statsPanel({ first: c_saline, second: c_lps, mean: c_mean, upper: c_upper, lower: c_lower, styles: ['circle', 'rect'],
  yTitle: ['Percent ADRB3\u207A Cells', 'in HO Lession (%)'], titleLine: 1.27, yMax: 5, yStep: 1, digits: 0,
  bracket: [5.39, 5.53], stars: '*', starY: 5.87, meanHalf: .343, capHalf: .171,
  left: 62, top: 276, bottom: 482, l: 108.3, r: 339, t: 307, b: 460.7, cat0: 166, cat1: 281 });
statsPanel({ first: d_saline, second: d_lps, mean: d_mean, upper: d_upper, lower: d_lower, styles: ['circle', 'rect'],
  yTitle: ['Percent ADRB3\u207A Cells', 'in Callus (%)'], titleLine: 1.28, yMax: 2.5, yStep: .5, digits: 1,
  bracket: [2.232, 2.29], stars: '*', starY: 2.41, meanHalf: .343, capHalf: .171,
  left: 420, top: 276, bottom: 486, l: 474.7, r: 706, t: 290.3, b: 464.7, cat0: 532.7, cat1: 647.7 });
statsPanel({ first: e_saline, second: e_lps, mean: e_mean, upper: e_upper, lower: e_lower, styles: ['rect', 'circle'],
  yTitle: ['Heterotopic Bone Volume', '(mm\u00B3)'], titleLine: 1.5, yMax: 16, yStep: 4, digits: 0,
  bracket: [14.7, 15.2], stars: '**', starY: 15.95, meanHalf: .343, capHalf: .171,
  left: 51, top: 510, bottom: 701, l: 106.7, r: 339.3, t: 525.3, b: 680, cat0: 165, cat1: 280.7 });
statsPanel({ first: f_saline, second: f_lps, mean: f_mean, upper: f_upper, lower: f_lower, styles: ['circle', 'circle'],
  yTitle: ['Fracture Callus', 'Bone Volume (mm\u00B3)'], titleLine: 1.4, yMax: .04, yStep: .01, digits: 2,
  bracket: [.0391, .04], stars: '**', starY: .0422, meanHalf: .34, capHalf: .17,
  left: 416, top: 505, bottom: 701, l: 479.7, r: 702.7, t: 525.7, b: 685, cat0: 535.3, cat1: 647.3 });

[['A', 2, 1], ['B', 373, 0], ['C', 36, 283], ['D', 401, 283], ['E', 36, 502], ['F', 401, 502]].forEach(([text, x, y]) => {
  const d = document.createElement('div');
  d.className = 'letter';
  d.textContent = text;
  d.style.left = x + 'px';
  d.style.top = y + 'px';
  document.body.appendChild(d);
});
</script>
</body>
</html>
